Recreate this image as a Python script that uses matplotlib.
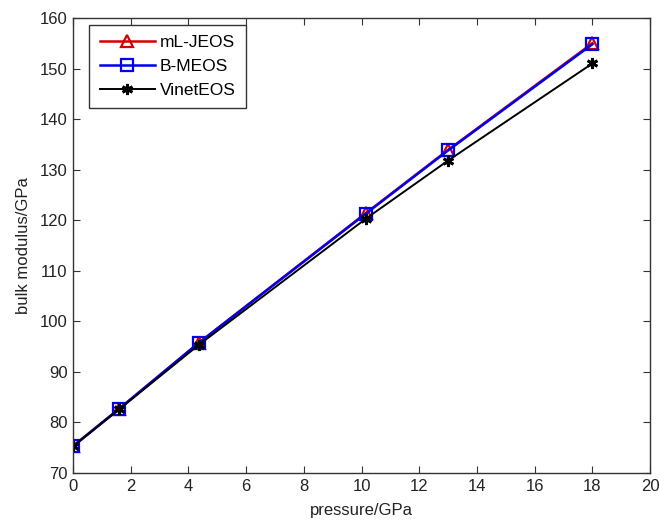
import matplotlib
matplotlib.use('Agg')
import matplotlib.pyplot as plt

# pressure points (GPa) and bulk modulus from the three equations of state
pressure = [0, 1.6, 4.35, 10.15, 13.0, 18.0]
ml_jeos = [75.3, 82.7, 95.7, 121.4, 133.9, 155.0]
b_meos = [75.3, 82.7, 95.7, 121.3, 133.8, 154.8]
vinet_eos = [75.3, 82.6, 95.3, 120.3, 131.8, 151.0]

x_ticks = list(range(0, 21, 2))
y_ticks = list(range(70, 161, 10))

plt.rcParams['font.family'] = ['Liberation Sans', 'DejaVu Sans']

fig = plt.figure(figsize=(6.59, 5.23), dpi=100)
ax = fig.add_axes([0.1108, 0.0956, 0.8756, 0.870])

ax.plot(pressure, ml_jeos, color='#d40000', marker='^', markersize=8,
        markerfacecolor='none', markeredgewidth=1.6, linewidth=1.8, label='mL-JEOS')
ax.plot(pressure, b_meos, color='#0000ee', marker='s', markersize=8,
        markerfacecolor='none', markeredgewidth=1.6, linewidth=1.8, label='B-MEOS')
ax.plot(pressure, vinet_eos, color='black', marker=(6, 2, 0), markersize=8,
        markeredgewidth=2.0, linewidth=1.4, label='VinetEOS')

ax.set_xlim(0, 20)
ax.set_ylim(70, 160)
ax.set_xticks(x_ticks)
ax.set_yticks(y_ticks)
ax.tick_params(direction='in', top=True, right=True, length=5, labelsize=12,
               color='#333333', labelcolor='#222222', pad=4)
for s in ax.spines.values():
    s.set_color('#333333')
    s.set_linewidth(1.0)

ax.set_xlabel('pressure/GPa', fontsize=12, color='#222222', labelpad=7)
ax.set_ylabel('bulk modulus/GPa', fontsize=12, color='#222222', labelpad=6)

leg = ax.legend(loc='upper left', bbox_to_anchor=(0.028, 0.985), fontsize=12.5,
                handlelength=3.2, borderaxespad=0, fancybox=False, framealpha=1,
                edgecolor='#333333', labelspacing=0.5, handletextpad=0.25,
                borderpad=0.6)
leg.get_frame().set_linewidth(1.0)

fig.savefig('out.png', dpi=100)
